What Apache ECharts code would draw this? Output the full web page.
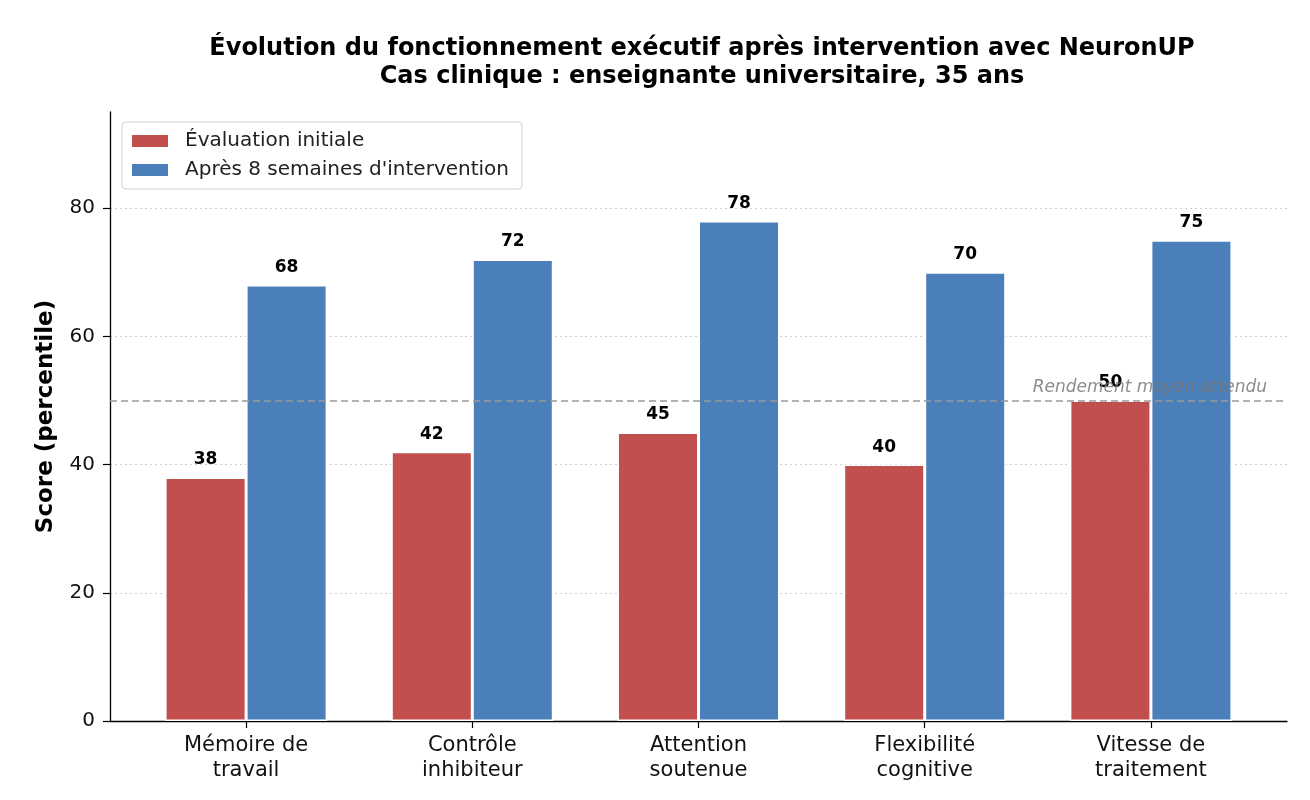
<!DOCTYPE html>
<html>
<head>
<meta charset="utf-8">
<title>NeuronUP</title>
<script src="https://cdn.jsdelivr.net/npm/echarts@6/dist/echarts.min.js"></script>
<style>
  html, body { margin: 0; padding: 0; background: #fff; }
  #main { width: 1310px; height: 800px; }
</style>
</head>
<body>
<div id="main"></div>
<script>
// données du graphique
var categories = ['Mémoire de\ntravail', 'Contrôle\ninhibiteur', 'Attention\nsoutenue', 'Flexibilité\ncognitive', 'Vitesse de\ntraitement'];
var initialScores = [38, 42, 45, 40, 50];
var afterScores = [68, 72, 78, 70, 75];
var seriesNames = ['Évaluation initiale', "Après 8 semaines d'intervention"];
var referenceLevel = 50;
var referenceLabel = 'Rendement moyen attendu';
var yTicks = [0, 20, 40, 60, 80];

var font = 'DejaVu Sans';
var yMax = 95;

var myChart = echarts.init(document.getElementById('main'));

var valueLabel = {
    show: true,
    position: 'top',
    distance: 9,
    fontFamily: font,
    fontWeight: 'bold',
    fontSize: 17,
    color: '#000'
};

var option = {
    animation: false,
    backgroundColor: '#fff',
    title: {
        text: 'Évolution du fonctionnement exécutif après intervention avec NeuronUP\nCas clinique : enseignante universitaire, 35 ans',
        left: 697,
        top: 30,
        textAlign: 'center',
        textStyle: {
            fontFamily: font,
            fontWeight: 'bold',
            fontSize: 24,
            lineHeight: 28,
            color: '#000'
        }
    },
    legend: {
        data: seriesNames,
        orient: 'vertical',
        left: 122,
        top: 122,
        padding: [8, 13, 8, 8],
        itemWidth: 38,
        itemHeight: 14,
        itemGap: 7,
        borderColor: '#d0d0d0',
        borderWidth: 1,
        borderRadius: 4,
        icon: 'rect',
        textStyle: {
            fontFamily: font,
            fontSize: 20,
            lineHeight: 22,
            color: '#222',
            padding: [0, 0, 0, 11]
        }
    },
    // grille 0 : axes complets (bordures, grille, ligne de référence)
    // grille 1 : barres par catégorie
    grid: [
        { left: 110, right: 23, top: 112, bottom: 79 },
        { left: 133, right: 46, top: 112, bottom: 79 }
    ],
    xAxis: [
        {
            type: 'value', gridIndex: 0, min: 0, max: 1,
            axisLine: { show: true, lineStyle: { color: '#000', width: 1.3 } },
            axisTick: { show: false },
            axisLabel: { show: false },
            splitLine: { show: false }
        },
        {
            type: 'category', gridIndex: 1, data: categories,
            axisLine: { show: false },
            axisTick: { show: true, alignWithLabel: true, length: 7, lineStyle: { color: '#000', width: 1.2 } },
            axisLabel: {
                fontFamily: font, fontSize: 21, lineHeight: 25, color: '#111', margin: 12
            },
            splitLine: { show: false }
        }
    ],
    yAxis: [
        {
            type: 'value', gridIndex: 0, min: 0, max: yMax, interval: 20,
            name: 'Score (percentile)',
            nameLocation: 'middle',
            nameGap: 52,
            nameTextStyle: { fontFamily: font, fontWeight: 'bold', fontSize: 23, color: '#000' },
            axisLine: { show: true, lineStyle: { color: '#000', width: 1.3 } },
            axisTick: { show: true, length: 7, customValues: yTicks, lineStyle: { color: '#000', width: 1.2 } },
            axisLabel: {
                fontFamily: font, fontSize: 20, color: '#111', margin: 15,
                customValues: yTicks
            },
            splitLine: { show: true, lineStyle: { color: '#cfcfcf', type: [2, 3], width: 1 } }
        },
        {
            type: 'value', gridIndex: 1, min: 0, max: yMax, interval: 20,
            show: false,
            splitLine: { show: false }
        }
    ],
    series: [
        {
            name: seriesNames[0],
            type: 'bar',
            xAxisIndex: 1, yAxisIndex: 1,
            barWidth: 81,
            barGap: '0%',
            itemStyle: { color: '#c24e4e', borderColor: '#fff', borderWidth: 1.5 },
            label: valueLabel,
            z: 3,
            data: initialScores
        },
        {
            name: seriesNames[1],
            type: 'bar',
            xAxisIndex: 1, yAxisIndex: 1,
            barWidth: 81,
            barGap: '0%',
            itemStyle: { color: '#4b7fba', borderColor: '#fff', borderWidth: 1.5 },
            label: valueLabel,
            z: 3,
            data: afterScores
        },
        {
            // ligne de référence (axhline)
            name: 'ref',
            type: 'line',
            xAxisIndex: 0, yAxisIndex: 0,
            data: [],
            z: 4,
            markLine: {
                silent: true,
                symbol: 'none',
                lineStyle: { color: '#999', type: [7, 4], width: 1.6 },
                label: {
                    show: true,
                    position: 'insideEndTop',
                    distance: [20, 4],
                    formatter: referenceLabel,
                    fontFamily: font,
                    fontStyle: 'italic',
                    fontSize: 17,
                    color: 'rgba(120,120,120,0.85)'
                },
                data: [{ yAxis: referenceLevel }]
            }
        }
    ]
};

myChart.setOption(option, true);
</script>
</body>
</html>
